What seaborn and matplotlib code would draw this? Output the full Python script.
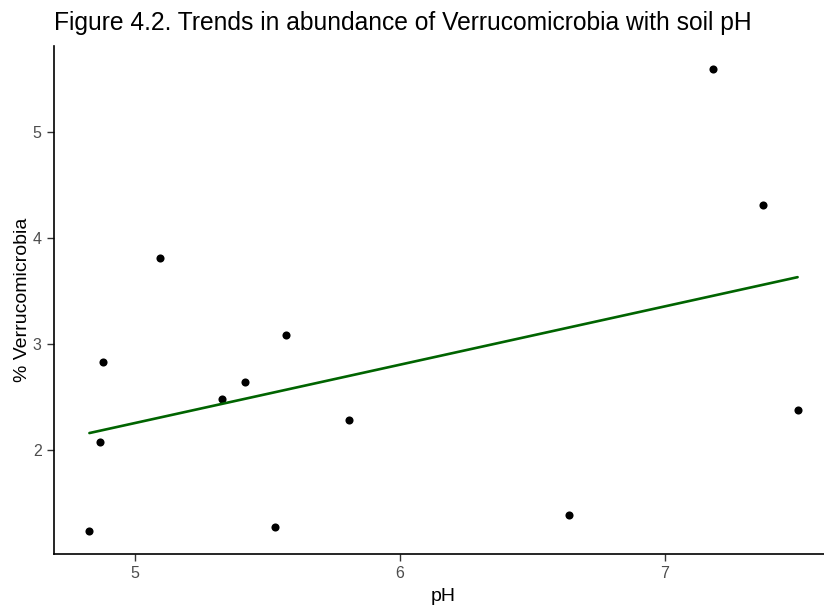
import matplotlib
matplotlib.use("Agg")
import matplotlib.pyplot as plt
import seaborn as sns
import pandas as pd
import numpy as np

ph = [4.828, 4.869, 4.879, 5.096, 5.328, 5.416, 5.529, 5.571, 5.809, 6.639, 7.181, 7.372, 7.501]
verruco = [1.241, 2.078, 2.834, 3.809, 2.480, 2.640, 1.282, 3.082, 2.285, 1.386, 5.596, 4.308, 2.376]
x_ticks = [5, 6, 7]
y_ticks = [2, 3, 4, 5]

df = pd.DataFrame({"pH": ph, "% Verrucomicrobia": verruco})

sns.set_style("white")
plt.rcParams['font.family'] = ['Liberation Sans', 'DejaVu Sans']

fig = plt.figure(figsize=(8.24, 6.05), dpi=100)
ax = fig.add_axes([54/824, 51/605, 779/824, 508.5/605])

sns.regplot(data=df, x="pH", y="% Verrucomicrobia", ax=ax, ci=None,
            scatter_kws=dict(color="black", s=34, linewidths=0, alpha=1),
            line_kws=dict(color="#006400", linewidth=1.9))

xr = max(ph) - min(ph)
yr = max(verruco) - min(verruco)
ax.set_xlim(min(ph) - 0.05 * xr, max(ph) + 0.05 * xr)
ax.set_ylim(min(verruco) - 0.05 * yr, max(verruco) + 0.05 * yr)
ax.set_xticks(x_ticks)
ax.set_yticks(y_ticks)
ax.set_xticklabels([str(t) for t in x_ticks])
ax.set_yticklabels([str(t) for t in y_ticks])

for s in ["top", "right"]:
    ax.spines[s].set_visible(False)
for s in ["left", "bottom"]:
    ax.spines[s].set_color("black")
    ax.spines[s].set_linewidth(1.2)

ax.tick_params(axis="both", which="major", length=5, width=1, color="#333333",
               labelcolor="#4D4D4D", labelsize=11.5, pad=4, direction="out",
               bottom=True, left=True)
ax.set_xlabel("pH", fontsize=14, color="black", labelpad=5)
ax.set_ylabel("% Verrucomicrobia", fontsize=14, color="black", labelpad=1)

fig.text(54/824, 1 - 23/605, "Figure 4.2. Trends in abundance of Verrucomicrobia with soil pH",
         fontsize=17.75, ha="left", va="center", color="black")

fig.savefig("out.png", dpi=100)
